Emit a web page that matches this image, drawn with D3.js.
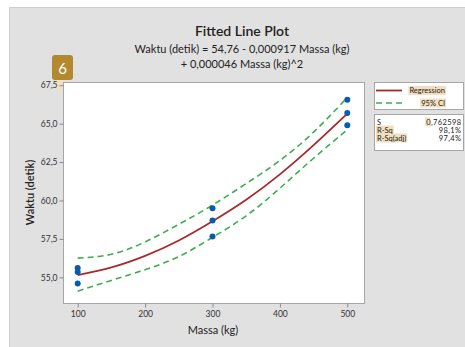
<!DOCTYPE html>
<html>
<head>
<meta charset="utf-8">
<script src="https://cdn.jsdelivr.net/npm/d3@7"></script>
<style>
	body { margin: 0; background: #fff; }
	svg { display: block; }
	text { font-family: Lato, "Open Sans", sans-serif; fill: #222; }
</style>
</head>
<body>
<svg id="chart" width="465" height="347"></svg>
<script>
// observed data
var massa = [100, 100, 100, 300, 300, 300, 500, 500, 500];
var waktu = [55.6, 55.35, 54.6, 59.5, 58.7, 57.65, 66.55, 65.7, 64.9];

// fitted line and 95% CI
var fitMassa = [100, 150, 200, 250, 300, 350, 400, 450, 500];
var fitWaktu = [55.15, 55.65, 56.4, 57.4, 58.65, 60.05, 61.7, 63.6, 65.65];
var ciUpper = [56.25, 56.5, 57.3, 58.45, 59.7, 61.1, 62.6, 64.45, 66.7];
var ciLower = [54.1, 54.8, 55.5, 56.35, 57.6, 59.0, 60.8, 62.75, 64.6];

var xTicks = [100, 200, 300, 400, 500];
var yTicks = [55.0, 57.5, 60.0, 62.5, 65.0, 67.5];

var statNames = ["S", "R-Sq", "R-Sq(adj)"];
var statValues = ["0,762598", "98,1%", "97,4%"];

var svg = d3.select("#chart");
var fmt = function (v) { return d3.format(".1f")(v).replace(".", ","); };

// grey panel
svg.append("rect")
	.attr("x", 9.5).attr("y", 7.5)
	.attr("width", 470).attr("height", 350)
	.style("fill", "#e1e1e1").style("stroke", "#cfcfcf");

var m = { left: 63, top: 82, right: 364, bottom: 303 };
var x = d3.scaleLinear().domain([78.2, 524.8]).range([m.left, m.right]);
var y = d3.scaleLinear().domain([53.33, 67.71]).range([m.bottom, m.top]);

// legend boxes
svg.append("rect").attr("x", 374.5).attr("y", 82.5).attr("width", 89).attr("height", 27)
	.style("fill", "#fff").style("stroke", "#a6a6a6");
svg.append("rect").attr("x", 374.5).attr("y", 114.5).attr("width", 89).attr("height", 36)
	.style("fill", "#fff").style("stroke", "#a6a6a6");

// highlight layer (search marks seen in the screenshot), filled in later from text boxes
var hlLayer = svg.append("g");
hlLayer.append("rect").attr("x", 56).attr("y", 81).attr("width", 6).attr("height", 9)
	.style("fill", "#f1dfbf");
var highlight = function (sel, frac) {
	var b = sel.node().getBBox();
	hlLayer.append("rect")
		.attr("x", b.x - 1).attr("y", b.y)
		.attr("width", (frac || 1) * b.width + 2).attr("height", b.height)
		.style("fill", "#f1dfbf");
};

// plot area
svg.append("rect")
	.attr("x", m.left + 0.5).attr("y", m.top + 0.5)
	.attr("width", m.right - m.left).attr("height", m.bottom - m.top)
	.style("fill", "#fff").style("stroke", "#a6a6a6");

// axes
var xAxis = svg.append("g")
	.attr("transform", "translate(0," + (m.bottom + 0.5) + ")")
	.call(d3.axisBottom(x).tickValues(xTicks).tickSize(4).tickPadding(3));
var yAxis = svg.append("g")
	.attr("transform", "translate(" + (m.left + 0.5) + ",0)")
	.call(d3.axisLeft(y).tickValues(yTicks).tickFormat(fmt).tickSize(4).tickPadding(2));

[xAxis, yAxis].forEach(function (g) {
	g.select(".domain").remove();
	g.selectAll(".tick line").style("stroke", "#8a8a8a");
	g.selectAll(".tick text").style("font-size", "8.5px").style("fill", "#333")
		.style("font-family", "Lato, sans-serif");
});

// CI and fit lines
var line = function (vals) {
	return d3.line()
		.x((d, i) => x(fitMassa[i]))
		.y(d => y(d))
		.curve(d3.curveNatural)(vals);
};

[ciUpper, ciLower].forEach(function (vals) {
	svg.append("path")
		.attr("d", line(vals))
		.style("fill", "none")
		.style("stroke", "#3ead4f")
		.style("stroke-width", 1.6)
		.style("stroke-dasharray", "6,4");
});

svg.append("path")
	.attr("d", line(fitWaktu))
	.style("fill", "none")
	.style("stroke", "#a82a2e")
	.style("stroke-width", 1.8);

svg.selectAll("circle.pt").data(waktu).enter().append("circle")
	.attr("class", "pt")
	.attr("cx", (d, i) => x(massa[i]))
	.attr("cy", d => y(d))
	.attr("r", 3)
	.style("fill", "#0a5bb0");

// titles
svg.append("text").attr("x", 242).attr("y", 36).attr("text-anchor", "middle")
	.style("font-size", "14px").style("font-weight", 600).text("Fitted Line Plot");
svg.append("text").attr("x", 242).attr("y", 53).attr("text-anchor", "middle")
	.style("font-size", "11px").text("Waktu (detik) = 54,76 - 0,000917 Massa (kg)");
svg.append("text").attr("x", 242).attr("y", 68).attr("text-anchor", "middle")
	.style("font-size", "11px").text("+ 0,000046 Massa (kg)^2");

svg.append("text").attr("x", 213).attr("y", 334).attr("text-anchor", "middle")
	.style("font-size", "11px").text("Massa (kg)");
svg.append("text")
	.attr("transform", "translate(34," + ((m.top + m.bottom) / 2) + ") rotate(-90)")
	.attr("text-anchor", "middle")
	.style("font-size", "11px").style("font-weight", 600).text("Waktu (detik)");

// the "6" badge
svg.append("rect").attr("x", 52).attr("y", 55).attr("width", 21).attr("height", 25).attr("rx", 3)
	.style("fill", "#b3882f");
svg.append("text").attr("x", 62.5).attr("y", 73.5).attr("text-anchor", "middle")
	.style("font-size", "15px").style("fill", "#fff").text("6");

// legend content
var lg = svg.append("g");
lg.append("line").attr("x1", 376).attr("x2", 402).attr("y1", 90.5).attr("y2", 90.5)
	.style("stroke", "#a82a2e").style("stroke-width", 1.8);
lg.append("line").attr("x1", 376).attr("x2", 402).attr("y1", 103).attr("y2", 103)
	.style("stroke", "#3ead4f").style("stroke-width", 1.6).style("stroke-dasharray", "6,4");
highlight(lg.append("text").attr("x", 445).attr("y", 93).attr("text-anchor", "end")
	.style("font-size", "7.5px").text("Regression"));
highlight(lg.append("text").attr("x", 445).attr("y", 105.5).attr("text-anchor", "end")
	.style("font-size", "7.5px").text("95% CI"));

statNames.forEach(function (s, i) {
	var name = lg.append("text").attr("x", 377).attr("y", 124.5 + i * 8)
		.style("font-size", "7.5px").text(s);
	var val = lg.append("text").attr("x", 461.5).attr("y", 124.5 + i * 8).attr("text-anchor", "end")
		.style("font-size", "7.5px").style("letter-spacing", "0.4px").text(statValues[i]);
	if (i > 0) highlight(name);
	if (i === 0) highlight(val, 0.1);
});
</script>
</body>
</html>
